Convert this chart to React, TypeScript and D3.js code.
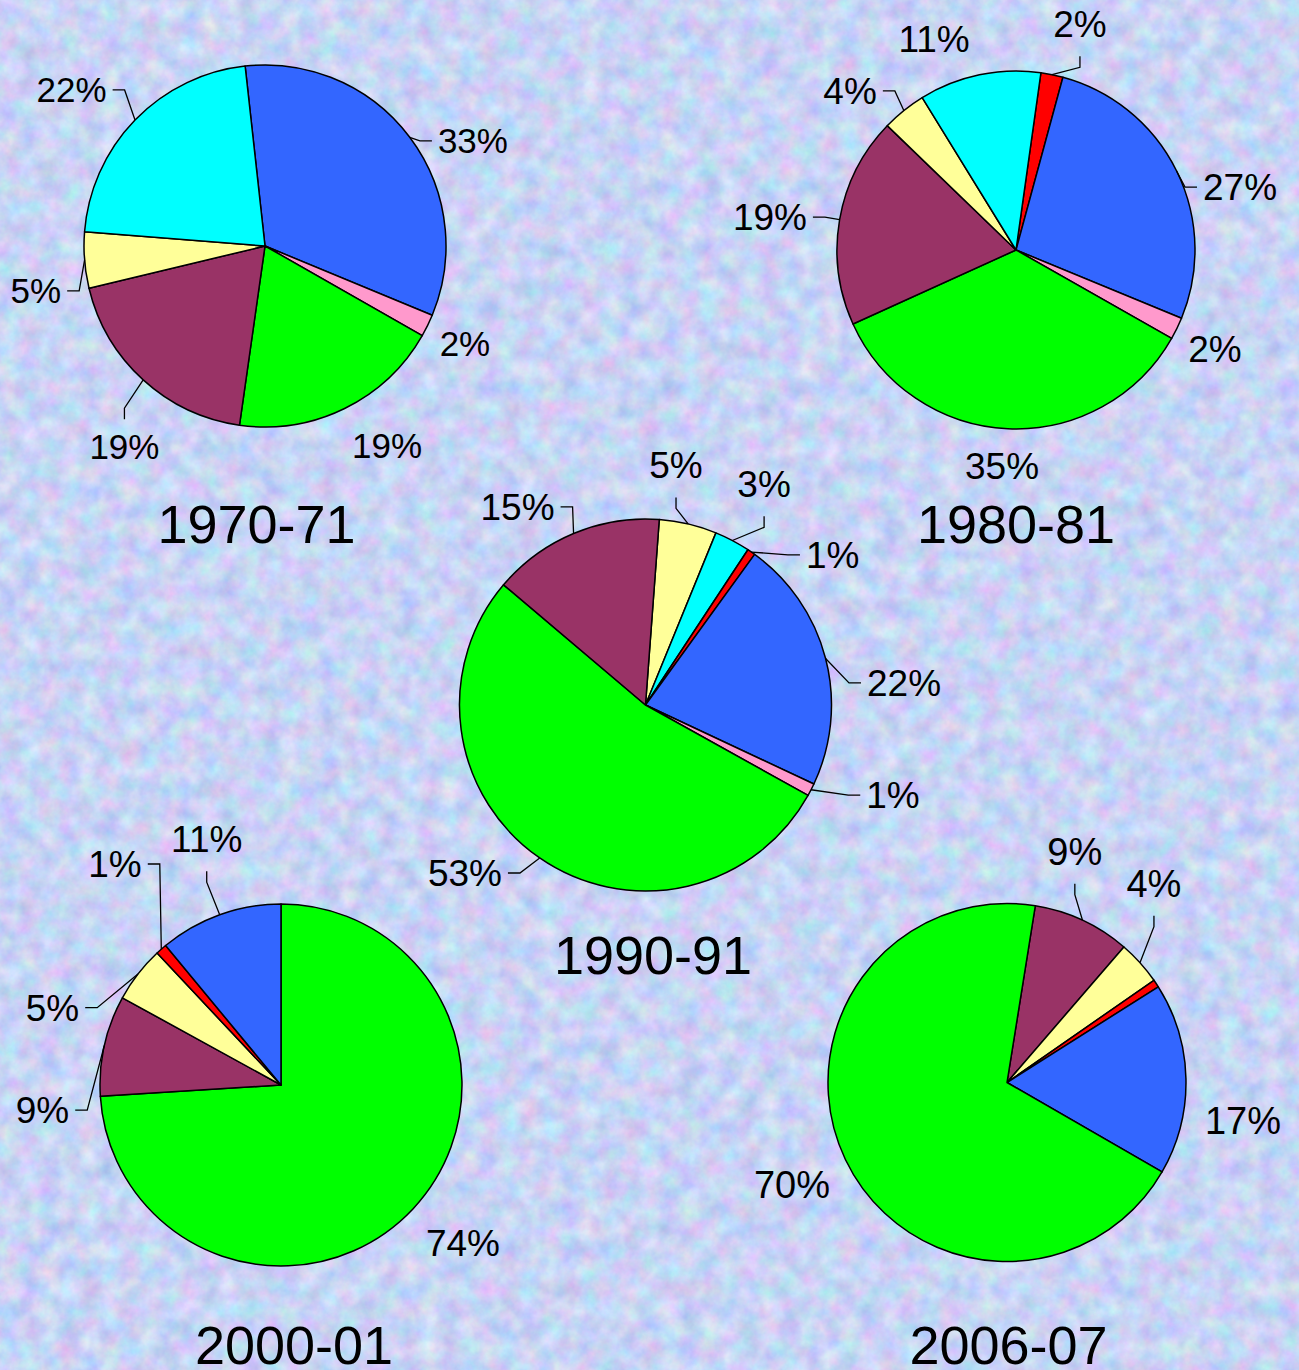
import React from 'react';
import * as d3 from 'd3';

const W = 1299;
const H = 1370;

// Slice colours by category key (Excel classic palette)
const categoryColors: Record<string, string> = {
  red: '#FF0000',
  blue: '#3366FF',
  pink: '#FF99CC',
  green: '#00FF00',
  maroon: '#993366',
  yellow: '#FFFF99',
  cyan: '#00FFFF',
};

const years = ['1970-71', '1980-81', '1990-91', '2000-01', '2006-07'];

// ---- data (slices in drawing order, clockwise) ----
const cats1970 = ['blue', 'pink', 'green', 'maroon', 'yellow', 'cyan'];
const vals1970 = [33, 2, 19, 19, 5, 22];
const labels1970 = ['33%', '2%', '19%', '19%', '5%', '22%'];

const cats1980 = ['red', 'blue', 'pink', 'green', 'maroon', 'yellow', 'cyan'];
const vals1980 = [2, 27, 2, 35, 19, 4, 11];
const labels1980 = ['2%', '27%', '2%', '35%', '19%', '4%', '11%'];

const cats1990 = ['yellow', 'cyan', 'red', 'blue', 'pink', 'green', 'maroon'];
const vals1990 = [5, 3.1, 0.7, 22, 1.1, 53.1, 15];
const labels1990 = ['5%', '3%', '1%', '22%', '1%', '53%', '15%'];

const cats2000 = ['green', 'maroon', 'yellow', 'red', 'blue'];
const vals2000 = [74, 9, 5, 1, 11];
const labels2000 = ['74%', '9%', '5%', '1%', '11%'];

const cats2006 = ['maroon', 'yellow', 'red', 'blue', 'green'];
const vals2006 = [8.8, 4, 0.7, 17.3, 69.2];
const labels2006 = ['9%', '4%', '', '17%', '70%'];

// ---- layout (positions / sizes, kept apart from the data) ----
type PieLayout = { cx: number; cy: number; r: number; start: number; fs: number; tx: number; ty: number };
const pieLayouts: PieLayout[] = [
  { cx: 265, cy: 246, r: 181, start: -6.3, fs: 35, tx: 256.5, ty: 543 },
  { cx: 1016, cy: 250, r: 179, start: 8, fs: 37, tx: 1016, ty: 543 },
  { cx: 645.5, cy: 705, r: 186, start: 4.25, fs: 37, tx: 653, ty: 974 },
  { cx: 281, cy: 1085, r: 181, start: 0, fs: 37, tx: 294, ty: 1364 },
  { cx: 1007, cy: 1082.5, r: 179, start: 9.1, fs: 38, tx: 1008.5, ty: 1364 },
];

// label placement: [angle nudge (deg) from slice mid-angle, radial factor, leader type]
type Place = [number, number, string];
const place1970: Place[] = [[10.1, 1.287, 'h'], [0, 1.23, ''], [-5.4, 1.29, ''], [-7.3, 1.354, 'v'], [-6.6, 1.29, 'h'], [-5.2, 1.373, 'h']];
const place1980: Place[] = [[4.2, 1.312, 'v'], [10.5, 1.3, 'h'], [0.5, 1.242, ''], [1.1, 1.21, ''], [-2.2, 1.387, 'h'], [-7.4, 1.284, 'h'], [-9.4, 1.265, '']];
const place1990: Place[] = [[-6, 1.3, 'v'], [0.4, 1.348, 'v'], [16.6, 1.29, 'h'], [9.6, 1.395, 'h'], [-7.1, 1.416, 'h'], [12.4, 1.326, 'h'], [-10.1, 1.268, 'h']];
const place2000: Place[] = [[-2.3, 1.33, ''], [-18.6, 1.325, 'h'], [-19.1, 1.333, 'h'], [4.5, 1.527, 'h'], [3, 1.42, 'v']];
const place2006: Place[] = [[-8.6, 1.347, 'v'], [-11.6, 1.384, 'v'], [0, 1.3, ''], [10.2, 1.335, ''], [0.2, 1.328, '']];

const pies = [
  { cats: cats1970, vals: vals1970, labels: labels1970, place: place1970 },
  { cats: cats1980, vals: vals1980, labels: labels1980, place: place1980 },
  { cats: cats1990, vals: vals1990, labels: labels1990, place: place1990 },
  { cats: cats2000, vals: vals2000, labels: labels2000, place: place2000 },
  { cats: cats2006, vals: vals2006, labels: labels2006, place: place2006 },
];

const FONT = '"Liberation Sans", Arial, Helvetica, sans-serif';
const rad = (d: number) => (d * Math.PI) / 180;

function textWidth(s: string, fs: number) {
  let w = 0;
  for (const ch of s) w += ch === '%' ? 0.889 : 0.556;
  return w * fs;
}

function Pie({ idx }: { idx: number }) {
  const L = pieLayouts[idx];
  const P = pies[idx];
  const items = P.vals.map((v, i) => ({ v, cat: P.cats[i], label: P.labels[i], place: P.place[i] }));
  const pieGen = d3
    .pie<any>()
    .sort(null)
    .value((d: any) => d.v)
    .startAngle(rad(L.start))
    .endAngle(rad(L.start + 360));
  const arcs = pieGen(items);
  const arcGen = d3.arc<any>().innerRadius(0).outerRadius(L.r);

  return (
    <g>
      {arcs.map((a, i) => (
        <path
          key={'s' + i}
          d={arcGen(a) || ''}
          transform={`translate(${L.cx},${L.cy})`}
          fill={categoryColors[a.data.cat]}
          stroke="#000"
          strokeWidth={1.5}
          strokeLinejoin="round"
        />
      ))}
      {arcs.map((a, i) => {
        const d = a.data;
        if (!d.label) return null;
        const [nudge, k, leader] = d.place as Place;
        const mid = (a.startAngle + a.endAngle) / 2;
        const la = mid + rad(nudge);
        const lx = L.cx + Math.sin(la) * L.r * k;
        const ly = L.cy - Math.cos(la) * L.r * k;
        const ax = L.cx + Math.sin(mid) * L.r;
        const ay = L.cy - Math.cos(mid) * L.r;
        const hw = textWidth(d.label, L.fs) / 2;
        const half = 0.358 * L.fs;
        let path = '';
        if (leader === 'h') {
          const side = lx > ax ? -1 : 1;
          const attachX = lx + side * (hw + 6);
          const stubX = attachX + side * 12;
          path = `M${ax},${ay}L${stubX},${ly}L${attachX},${ly}`;
        } else if (leader === 'v') {
          const above = ly < ay;
          const attachY = above ? ly + half + 19 : ly - half - 15;
          const stubY = attachY + (above ? 11 : -11);
          path = `M${ax},${ay}L${lx},${stubY}L${lx},${attachY}`;
        }
        return (
          <g key={'l' + i}>
            {path && <path d={path} fill="none" stroke="#000" strokeWidth={1.3} />}
            <text
              x={lx}
              y={ly + half}
              textAnchor="middle"
              fontFamily={FONT}
              fontSize={L.fs}
              fill="#000"
            >
              {d.label}
            </text>
          </g>
        );
      })}
      <text x={L.tx} y={L.ty} textAnchor="middle" fontFamily={FONT} fontSize={54} fill="#000">
        {years[idx]}
      </text>
    </g>
  );
}

export default function App() {
  return (
    <svg
      width={W}
      height={H}
      viewBox={`0 0 ${W} ${H}`}
      style={{ position: 'absolute', left: 0, top: 0, display: 'block' }}
    >
      <defs>
        <filter
          id="bgNoise"
          x={0}
          y={0}
          width={W}
          height={H}
          filterUnits="userSpaceOnUse"
          colorInterpolationFilters="sRGB"
        >
          <feTurbulence type="fractalNoise" baseFrequency="0.05" numOctaves={4} seed={7} />
          <feColorMatrix
            type="matrix"
            values="0.34 0 0 0 0.615  0 0.28 0 0 0.69  0 0 0.14 0 0.89  0 0 0 0 1"
          />
        </filter>
      </defs>
      <rect x={0} y={0} width={W} height={H} fill="#c8d3f2" />
      <rect x={0} y={0} width={W} height={H} filter="url(#bgNoise)" />
      {years.map((_, i) => (
        <Pie key={i} idx={i} />
      ))}
    </svg>
  );
}
